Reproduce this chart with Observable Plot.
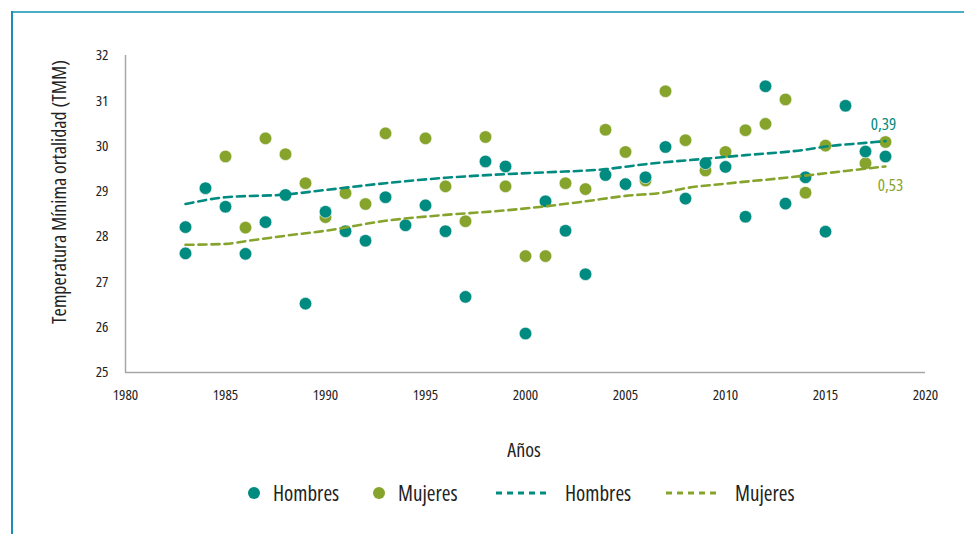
<!DOCTYPE html>
<html>
<head>
<meta charset="utf-8">
<script src="https://cdn.jsdelivr.net/npm/d3@7"></script>
<script src="https://cdn.jsdelivr.net/npm/@observablehq/plot@0.6"></script>
<style>
  html, body { margin: 0; padding: 0; background: #fff; }
  #wrap { position: relative; width: 964px; height: 534px; overflow: hidden; font-family: "Open Sans", sans-serif; font-stretch: condensed; color: #222; }
  #frameTop { position: absolute; left: 12px; top: 11px; width: 952px; height: 2px; background: #4bacc6; }
  #frameLeft { position: absolute; left: 11px; top: 11px; width: 2px; height: 523px; background: #1b8fb8; }
  #chart { position: absolute; left: 0; top: 0; }
  #chart svg text { font-family: "Open Sans", sans-serif; font-stretch: condensed; }
  #ylabel { position: absolute; left: 58px; top: 192px; transform: translate(-50%, -50%) rotate(-90deg); white-space: nowrap; font-size: 20px; }
  #xlabel { position: absolute; left: 524px; top: 449px; transform: translate(-50%, -50%); font-size: 20px; }
  #legend { position: absolute; left: 0; top: 493px; width: 964px; height: 0; }
  .li { position: absolute; top: 0; transform: translateY(-50%); display: flex; align-items: center; font-size: 21px; font-stretch: 87.5%; white-space: nowrap; }
  .dot { width: 12px; height: 12px; border-radius: 50%; display: inline-block; margin-right: 13px; }
  .dash { display: inline-block; margin-right: 19px; }
</style>
</head>
<body>
<div id="wrap">
  <div id="frameTop"></div>
  <div id="frameLeft"></div>
  <div id="chart"></div>
  <div id="ylabel">Temperatura Mínima ortalidad (TMM)</div>
  <div id="xlabel">Años</div>
  <div id="legend"></div>
</div>
<script>
// ---- data ----
const hombresYears = [1983,1983,1984,1985,1986,1987,1988,1989,1990,1991,1992,1993,1994,1995,1996,1997,1998,1999,2000,2001,2002,2003,2004,2005,2006,2007,2008,2009,2010,2011,2012,2013,2014,2015,2016,2017,2018];
const hombresValues = [28.21,27.63,29.07,28.66,27.62,28.32,28.92,26.52,28.55,28.12,27.91,28.87,28.25,28.69,28.12,26.67,29.66,29.55,25.86,28.78,28.13,27.17,29.36,29.16,29.31,29.98,28.84,29.62,29.54,28.44,31.32,28.73,29.31,28.11,30.89,29.88,29.77];

const mujeresYears = [1985,1986,1987,1988,1989,1990,1991,1992,1993,1995,1996,1997,1998,1999,2000,2001,2002,2003,2004,2005,2006,2007,2008,2009,2010,2011,2012,2013,2014,2015,2017,2018];
const mujeresValues = [29.77,28.20,30.17,29.82,29.18,28.43,28.96,28.72,30.28,30.17,29.11,28.34,30.20,29.11,27.57,27.57,29.18,29.05,30.36,29.87,29.24,31.21,30.13,29.46,29.87,30.35,30.49,31.03,28.97,30.01,29.62,30.09];

const trendHombresYears = [1983,1985,1988,1990,1993,1996,1999,2001,2004,2006,2009,2011,2014,2015,2017,2018];
const trendHombresValues = [28.72,28.87,28.93,29.03,29.18,29.30,29.38,29.42,29.49,29.60,29.72,29.80,29.92,29.99,30.07,30.11];

const trendMujeresYears = [1983,1985,1986,1988,1990,1993,1996,1999,2001,2003,2005,2007,2008,2010,2013,2016,2018];
const trendMujeresValues = [27.82,27.84,27.90,28.02,28.13,28.35,28.48,28.58,28.67,28.78,28.90,28.98,29.07,29.17,29.30,29.45,29.55];

const r2Labels = ["0,39", "0,53"];
const seriesNames = ["Hombres", "Mujeres"];
const xTicks = [1980,1985,1990,1995,2000,2005,2010,2015,2020];
const yTicks = [25,26,27,28,29,30,31,32];

// ---- styles ----
const TEAL = "#008b80";
const GREEN = "#86a42c";
const AXIS = "#a6a6a6";

const hombres = hombresYears.map((x, i) => ({x, y: hombresValues[i]}));
const mujeres = mujeresYears.map((x, i) => ({x, y: mujeresValues[i]}));
const trendH = trendHombresYears.map((x, i) => ({x, y: trendHombresValues[i]}));
const trendM = trendMujeresYears.map((x, i) => ({x, y: trendMujeresValues[i]}));

const chart = Plot.plot({
  width: 964,
  height: 420,
  marginLeft: 125,
  marginRight: 39,
  marginTop: 55,
  marginBottom: 48,
  style: {fontFamily: '"Open Sans", sans-serif', fontSize: "15px", color: "#222", background: "transparent"},
  x: {domain: [1980, 2020], ticks: xTicks, tickFormat: d3.format("d"), tickSize: 0, tickPadding: 17, label: null},
  y: {domain: [25, 32], ticks: yTicks, tickFormat: d3.format("d"), tickSize: 0, tickPadding: 17, label: null},
  marks: [
    Plot.ruleX([1980], {stroke: AXIS, strokeWidth: 1.5}),
    Plot.ruleY([25], {stroke: AXIS, strokeWidth: 1.5}),
    Plot.dot(mujeres, {x: "x", y: "y", r: 6.3, fill: GREEN, stroke: "white", strokeWidth: 0.6}),
    Plot.dot(hombres, {x: "x", y: "y", r: 6.3, fill: TEAL, stroke: "white", strokeWidth: 0.6}),
    Plot.line(trendH, {x: "x", y: "y", stroke: TEAL, strokeWidth: 2.6, strokeDasharray: "8,5", curve: "monotone-x"}),
    Plot.line(trendM, {x: "x", y: "y", stroke: GREEN, strokeWidth: 2.6, strokeDasharray: "8,5", curve: "monotone-x"}),
    Plot.text([trendH[trendH.length - 1]], {x: "x", y: "y", text: () => r2Labels[0], fill: TEAL, fontSize: 17, dx: -2, dy: -17}),
    Plot.text([trendM[trendM.length - 1]], {x: "x", y: "y", text: () => r2Labels[1], fill: GREEN, fontSize: 17, dx: 5, dy: 19})
  ]
});
document.getElementById("chart").appendChild(chart);

// ---- legend ----
const legendItems = [
  {kind: "dot", color: TEAL, label: seriesNames[0], left: 248},
  {kind: "dot", color: GREEN, label: seriesNames[1], left: 373},
  {kind: "dash", color: TEAL, label: seriesNames[0], left: 496},
  {kind: "dash", color: GREEN, label: seriesNames[1], left: 666}
];
const legend = document.getElementById("legend");
const svgNS = "http://www.w3.org/2000/svg";
for (const it of legendItems) {
  const el = document.createElement("div");
  el.className = "li";
  el.style.left = it.left + "px";
  let sw;
  if (it.kind === "dot") {
    sw = document.createElement("span");
    sw.className = "dot";
    sw.style.background = it.color;
  } else {
    sw = document.createElementNS(svgNS, "svg");
    sw.setAttribute("class", "dash");
    sw.setAttribute("width", "50");
    sw.setAttribute("height", "6");
    const ln = document.createElementNS(svgNS, "line");
    ln.setAttribute("x1", "0"); ln.setAttribute("x2", "50");
    ln.setAttribute("y1", "3"); ln.setAttribute("y2", "3");
    ln.setAttribute("stroke", it.color);
    ln.setAttribute("stroke-width", "3");
    ln.setAttribute("stroke-dasharray", "6,5");
    sw.appendChild(ln);
  }
  el.appendChild(sw);
  const t = document.createElement("span");
  t.textContent = it.label;
  el.appendChild(t);
  legend.appendChild(el);
}
</script>
</body>
</html>
